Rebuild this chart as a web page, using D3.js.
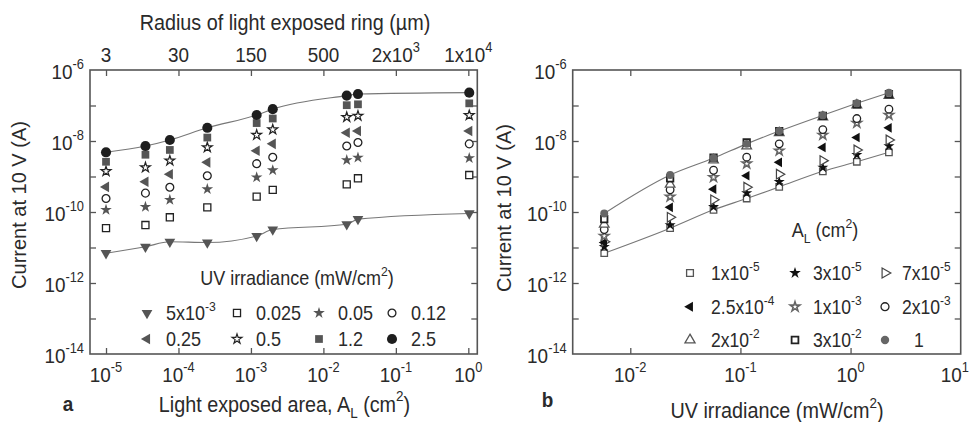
<!DOCTYPE html>
<html><head><meta charset="utf-8">
<script src="https://cdn.jsdelivr.net/npm/d3@7/dist/d3.min.js"></script>
<style>html,body{margin:0;padding:0;background:#fff;}svg{display:block;}</style>
</head><body><svg id="c" width="971" height="422"></svg>
<script>
// ---- data ----
// light-exposed areas (cm^2), as plotted positions
const areas = [1e-5, 3.5e-5, 7.6e-5, 2.5e-4, 1.2e-3, 2e-3, 2.1e-2, 3e-2, 1.03];
const areaLabels = [["1x10","-5"],["3x10","-5"],["7x10","-5"],["2.5x10","-4"],["1x10","-3"],["2x10","-3"],["2x10","-2"],["3x10","-2"],["1",""]];
// UV irradiance (mW/cm^2), as plotted positions
const irradiance = [5.8e-3, 0.023, 0.057, 0.114, 0.225, 0.56, 1.14, 2.23];
const irradianceLabels = [["5x10","-3"],["0.025",""],["0.05",""],["0.12",""],["0.25",""],["0.5",""],["1.2",""],["2.5",""]];
// current at 10 V (A): one row per irradiance, one column per area
const cur_0005 = [6.9e-12, 1.05e-11, 1.45e-11, 1.38e-11, 2.1e-11, 3.2e-11, 4.5e-11, 6.3e-11, 9.1e-11];
const cur_0025 = [3.5e-11, 4.3e-11, 7.1e-11, 1.35e-10, 2.7e-10, 4.2e-10, 6.0e-10, 8.9e-10, 1.1e-9];
const cur_005  = [1.15e-10, 1.4e-10, 2.2e-10, 4.4e-10, 9.5e-10, 1.5e-9, 2.9e-9, 3.4e-9, 3.3e-9];
const cur_012  = [2.4e-10, 3.4e-10, 5.0e-10, 1.05e-9, 2.3e-9, 3.5e-9, 7.2e-9, 9.1e-9, 8.3e-9];
const cur_025  = [5.1e-10, 7.1e-10, 1.16e-9, 2.5e-9, 5.3e-9, 8.3e-9, 1.7e-8, 1.9e-8, 1.9e-8];
const cur_05   = [1.4e-9, 1.8e-9, 2.8e-9, 6.6e-9, 1.48e-8, 2.1e-8, 4.7e-8, 5.1e-8, 5.3e-8];
const cur_12   = [2.6e-9, 4.1e-9, 5.6e-9, 1.25e-8, 3.2e-8, 4.3e-8, 1.02e-7, 1.08e-7, 1.15e-7];
const cur_25   = [4.8e-9, 7.2e-9, 1.07e-8, 2.35e-8, 5.4e-8, 7.9e-8, 1.9e-7, 2.1e-7, 2.3e-7];
const currents = [cur_0005, cur_0025, cur_005, cur_012, cur_025, cur_05, cur_12, cur_25];
// axis ticks
const yDecades = [-14,-13,-12,-11,-10,-9,-8,-7,-6];
const yLabelDecades = [-14,-12,-10,-8,-6];
const xDecadesA = [-5,-4,-3,-2,-1,0];
const topLabelsA = [["3",""],["30",""],["150",""],["500",""],["2x10","3"],["1x10","4"]];
const xDecadesB = [-2,-1,0,1];

// ---- drawing ----
const svg = d3.select("#c");
svg.append("rect").attr("width",971).attr("height",422).attr("fill","#fff");
const FONT = "'Liberation Sans', Arial, Helvetica, sans-serif";
const TXT = "#2a2a2a", AX = "#555";
const SX = 0.9;

function addText(g, x, y, parts, o) {
  o = o || {};
  const size = o.size || 20;
  const t = g.append("text")
    .attr("transform", o.rotate ? `translate(${x},${y}) rotate(-90)` : `translate(${x},${y}) scale(${o.sx || SX},1)`)
    .attr("text-anchor", o.anchor || "middle")
    .attr("font-family", FONT).attr("font-size", size)
    .attr("font-weight", o.bold ? "bold" : "normal")
    .attr("fill", TXT);
  let off = 0;
  parts.forEach(p => {
    if (!p.t) return;
    const ts = t.append("tspan").text(p.t);
    let target = 0;
    if (p.sup) { ts.attr("font-size", size * 0.68); target = -size * 0.47; }
    if (p.sub) { ts.attr("font-size", size * 0.68); target = size * 0.3; }
    if (target !== off) { ts.attr("dy", target - off); off = target; }
  });
  return t;
}
const pw = (b, e) => [{t:b},{t:e,sup:true}];

const yS = d3.scaleLog().domain([1e-14, 1e-6]).range([354, 70]);
const xA = d3.scaleLog().domain([Math.pow(10,-5.221), Math.pow(10,0.124)]).range([90, 477.3]);
const xB = d3.scaleLog().domain([3e-3, 10]).range([572.7, 960.7]);

function symPath(kind, size) {
  const map = {circle:d3.symbolCircle, square:d3.symbolSquare, star:d3.symbolStar,
    tri:d3.symbolTriangle, triDown:d3.symbolTriangle, triLeft:d3.symbolTriangle, triRight:d3.symbolTriangle};
  return d3.symbol().type(map[kind]).size(size)();
}
const rot = {triDown:180, triLeft:-90, triRight:90, tri:0};
function drawSym(g, x, y, st, scale) {
  const s = st.size * (scale || 1);
  g.append("path").attr("d", symPath(st.kind, s))
    .attr("transform", `translate(${x},${y}) rotate(${rot[st.kind] || 0})`)
    .attr("fill", st.fill).attr("stroke", st.stroke || "none")
    .attr("stroke-width", st.sw || 0).attr("stroke-linejoin", "miter");
}

// marker styles
const stylesA = [
  {kind:"triDown", size:50, fill:"#555"},
  {kind:"square", size:50, fill:"#fff", stroke:"#222", sw:1.3},
  {kind:"star", size:42, fill:"#555"},
  {kind:"circle", size:48, fill:"#fff", stroke:"#222", sw:1.3},
  {kind:"triLeft", size:48, fill:"#555"},
  {kind:"star", size:30, fill:"#fff", stroke:"#222", sw:1.2},
  {kind:"square", size:60, fill:"#555"},
  {kind:"circle", size:80, fill:"#1e1e1e"}
];
const stylesB = [
  {kind:"square", size:42, fill:"#fff", stroke:"#555", sw:1.3},
  {kind:"star", size:38, fill:"#111"},
  {kind:"triRight", size:40, fill:"#fff", stroke:"#444", sw:1.2},
  {kind:"triLeft", size:40, fill:"#111"},
  {kind:"star", size:26, fill:"#fff", stroke:"#666", sw:1.6},
  {kind:"circle", size:45, fill:"#fff", stroke:"#222", sw:1.3},
  {kind:"tri", size:40, fill:"#fff", stroke:"#555", sw:1.3},
  {kind:"square", size:42, fill:"#fff", stroke:"#222", sw:1.8},
  {kind:"circle", size:50, fill:"#666"}
];

function frame(g, x0, x1, xS, xTicks) {
  const y0 = 70, y1 = 354;
  const tv = xTicks.map(d => Math.pow(10, d)).filter(v => xS(v) > x0 + 2 && xS(v) < x1 - 2);
  const yv = yDecades.map(d => Math.pow(10, d)).filter(v => yS(v) > y0 + 2 && yS(v) < y1 - 2);
  const axes = [
    [d3.axisBottom(xS).tickValues(tv), `translate(0,${y1})`],
    [d3.axisTop(xS).tickValues(tv), `translate(0,${y0})`],
    [d3.axisLeft(yS).tickValues(yv), `translate(${x0},0)`],
    [d3.axisRight(yS).tickValues(yv), `translate(${x1},0)`]
  ];
  axes.forEach(([ax, tr]) => {
    const a = g.append("g").attr("transform", tr)
      .call(ax.tickSizeInner(-6).tickSizeOuter(0).tickFormat(""));
    a.select(".domain").remove();
    a.selectAll("line").attr("stroke", AX).attr("stroke-width", 1.3);
  });
  g.append("rect").attr("x", x0).attr("y", y0).attr("width", x1 - x0).attr("height", y1 - y0)
    .attr("fill", "none").attr("stroke", AX).attr("stroke-width", 1.6);
  yLabelDecades.forEach(d => addText(g, x0 - 6, yS(Math.pow(10, d)) + 9, pw("10", String(d)), {anchor:"end", size:21}));
}

const line = d3.line().curve(d3.curveMonotoneX);

// ---------- Panel a ----------
const ga = svg.append("g");
frame(ga, 90, 477.3, xA, xDecadesA);
xDecadesA.forEach(d => addText(ga, xA(Math.pow(10, d)), 381.7, pw("10", String(d)), {size:21}));
topLabelsA.forEach((lb, i) => addText(ga, xA(Math.pow(10, xDecadesA[i])), 61.7, pw(lb[0], lb[1]), {size:21}));
[0, 7].forEach(r => {
  ga.append("path").attr("d", line(areas.map((a, j) => [xA(a), yS(currents[r][j])])))
    .attr("fill", "none").attr("stroke", "#777").attr("stroke-width", 1.1);
});
currents.forEach((row, r) => row.forEach((v, j) => drawSym(ga, xA(areas[j]), yS(v), stylesA[r])));
addText(ga, 297, 285, [{t:"UV irradiance (mW/cm"},{t:"2",sup:true},{t:")"}], {size:20});
const legAmx = [147, 237, 319, 392], legAtx = [166, 256, 338, 411], legAy = [313, 339];
irradianceLabels.forEach((lb, i) => {
  const r = Math.floor(i / 4), c = i % 4;
  drawSym(ga, legAmx[c], legAy[r], stylesA[i]);
  addText(ga, legAtx[c], legAy[r] + 7, pw(lb[0], lb[1]), {anchor:"start", size:20});
});
addText(ga, 285, 30, [{t:"Radius of light exposed ring ("},{t:"\u00b5m)"}], {size:22});
addText(ga, 284.5, 411.7, [{t:"Light exposed area, A"},{t:"L",sub:true},{t:"  (cm"},{t:"2",sup:true},{t:")"}], {size:22});
addText(ga, 26, 205, [{t:"Current at 10 V (A)"}], {size:20, rotate:true});
addText(ga, 62.7, 411, [{t:"a"}], {anchor:"start", size:21, bold:true});

// ---------- Panel b ----------
const gb = svg.append("g");
frame(gb, 572.7, 960.7, xB, xDecadesB);
xDecadesB.forEach(d => {
  const xp = xB(Math.pow(10, d));
  if (xp + 14 > 969) addText(gb, 969, 381.7, pw("10", String(d)), {size:21, anchor:"end"});
  else addText(gb, xp, 381.7, pw("10", String(d)), {size:21});
});
[8, 0].forEach(c => {
  gb.append("path").attr("d", line(irradiance.map((x, i) => [xB(x), yS(currents[i][c])])))
    .attr("fill", "none").attr("stroke", "#777").attr("stroke-width", 1.1);
});
areas.forEach((a, c) => irradiance.forEach((x, i) => drawSym(gb, xB(x), yS(currents[i][c]), stylesB[c])));
addText(gb, 825, 237, [{t:"A"},{t:"L",sub:true},{t:" (cm"},{t:"2",sup:true},{t:")"}], {size:20});
const legBmx = [690, 795, 885], legBtx = [711, 813, 902], legBy = [273, 306.7, 340];
areaLabels.forEach((lb, i) => {
  const r = Math.floor(i / 3), c = i % 3;
  drawSym(gb, legBmx[c], legBy[r], stylesB[i], 1.1);
  addText(gb, legBtx[c] + (lb[1] ? 0 : 12), legBy[r] + 7, pw(lb[0], lb[1]), {anchor:"start", size:19.5});
});
addText(gb, 777, 418, [{t:"UV irradiance (mW/cm"},{t:"2",sup:true},{t:")"}], {size:22});
addText(gb, 510.7, 208, [{t:"Current at 10 V (A)"}], {size:20, rotate:true});
addText(gb, 541.7, 406.7, [{t:"b"}], {anchor:"start", size:21, bold:true});
</script></body></html>
